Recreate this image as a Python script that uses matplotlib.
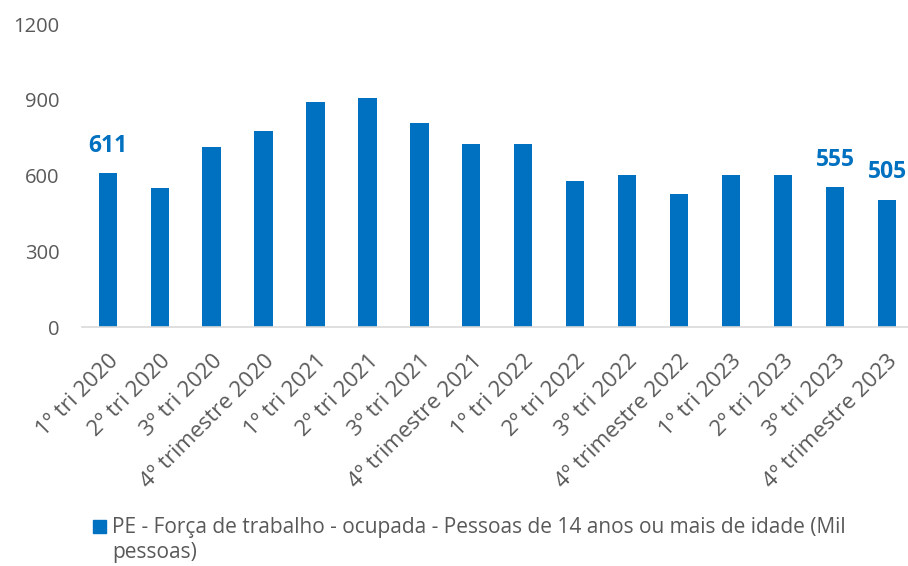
import matplotlib
matplotlib.use('Agg')
import matplotlib.pyplot as plt
from matplotlib.patches import Rectangle

plt.rcParams['font.family'] = ['Open Sans', 'DejaVu Sans']

# Quarterly data (Mil pessoas)
categories = ['1º tri 2020', '2º tri 2020', '3º tri 2020', '4º trimestre 2020',
              '1º tri 2021', '2º tri 2021', '3º tri 2021', '4º trimestre 2021',
              '1º tri 2022', '2º tri 2022', '3º tri 2022', '4º trimestre 2022',
              '1º tri 2023', '2º tri 2023', '3º tri 2023', '4º trimestre 2023']
values = [611, 553, 712, 778, 890, 909, 807, 725,
          725, 580, 601, 526, 602, 601, 555, 505]
labelled = [0, 14, 15]
yticks = [0, 300, 600, 900, 1200]
series_name = 'PE - Força de trabalho - ocupada - Pessoas de 14 anos ou mais de idade (Mil\npessoas)'

blue = '#0070C0'
grey = '#595959'

fig = plt.figure(figsize=(9.08, 5.66), dpi=100)
ax = fig.add_axes([81.7 / 908, 1 - 327.3 / 566, (913 - 81.7) / 908, (327.3 - 24) / 566])

x = list(range(len(values)))
ax.bar(x, values, width=0.35, color=blue, zorder=2)

for i in labelled:
    ax.annotate(str(values[i]), (x[i], values[i]), xytext=(0, 11), textcoords='offset points',
                ha='center', va='bottom', color=blue, fontsize=16.5, fontweight='bold')

ax.set_xlim(-0.5, len(values) - 0.5)
ax.set_ylim(0, 1200)
ax.set_yticks(yticks)
ax.set_yticklabels([str(t) for t in yticks])
ax.set_xticks(x)
ax.set_xticklabels(categories, rotation=45, ha='right', rotation_mode='anchor')

for s in ['top', 'right', 'left']:
    ax.spines[s].set_visible(False)
ax.spines['bottom'].set_color('#D9D9D9')
ax.spines['bottom'].set_linewidth(1.2)
ax.tick_params(axis='y', length=0, pad=16, labelsize=14.5, labelcolor=grey)
ax.tick_params(axis='x', length=0, pad=17, labelsize=16, labelcolor=grey)

# legend (manual so the swatch sits on the first line)
fig.add_artist(Rectangle((93 / 908, 1 - 533 / 566), 13 / 908, 13 / 566,
                         transform=fig.transFigure, color=blue))
fig.text(112 / 908, 1 - 517 / 566, series_name, ha='left', va='top',
         fontsize=15, color=grey, linespacing=1.25)

fig.savefig('out.png', dpi=100)
